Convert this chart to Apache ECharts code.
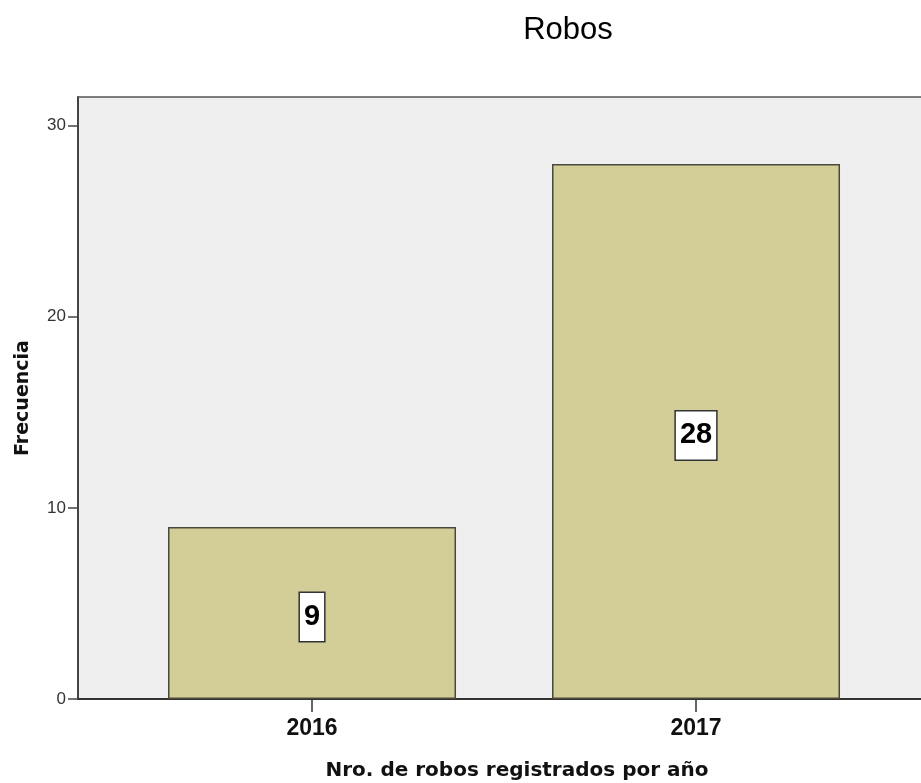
<!DOCTYPE html>
<html>
<head>
<meta charset="utf-8">
<script src="https://cdn.jsdelivr.net/npm/echarts@6/dist/echarts.min.js"></script>
<style>html,body{margin:0;padding:0;background:#fff;}#c{width:921px;height:783px;}</style>
</head>
<body>
<div id="c"></div>
<script>
const title = 'Robos';
const xTitle = 'Nro. de robos registrados por año';
const yTitle = 'Frecuencia';
const years = [2016, 2017];
const counts = [9, 28];
const yMax = 31.5;
const yStep = 10;

const chart = echarts.init(document.getElementById('c'), null, {renderer: 'canvas'});
const data = years.map((y, i) => [y, counts[i]]);
const xMin = 2015.3906, xMax = 2017.5859;

chart.setOption({
  animation: false,
  backgroundColor: '#ffffff',
  title: {
    text: title, left: 563, top: 10, textAlign: 'center',
    textStyle: {fontFamily: 'Liberation Sans', fontSize: 31, fontWeight: 'normal', color: '#000'}
  },
  grid: {
    left: 78, top: 97, right: 0, bottom: 84,
    show: true, backgroundColor: '#efefef', borderWidth: 0
  },
  xAxis: [{
    type: 'value',
    min: xMin, max: xMax,
    splitLine: {show: false},
    axisLine: {show: true, onZero: false, lineStyle: {color: '#333', width: 2}},
    axisTick: {show: true, customValues: years, length: 13, lineStyle: {color: '#333', width: 1.5}},
    axisLabel: {
      customValues: years, margin: 18, formatter: v => String(v),
      fontFamily: 'Liberation Sans', fontWeight: 'bold', fontSize: 23, color: '#111'
    }
  }, {
    type: 'value', position: 'top',
    min: xMin, max: xMax,
    splitLine: {show: false},
    axisLine: {show: true, onZero: false, lineStyle: {color: '#555', width: 1.5}},
    axisTick: {show: false},
    axisLabel: {show: false}
  }],
  yAxis: {
    type: 'value', min: 0, max: yMax, interval: yStep,
    splitLine: {show: false},
    axisLine: {show: true, lineStyle: {color: '#444', width: 2}},
    axisTick: {show: true, length: 10, lineStyle: {color: '#444', width: 1.5}},
    axisLabel: {
      margin: 12, fontFamily: 'Liberation Sans', fontSize: 17, color: '#333',
      showMaxLabel: false
    }
  },
  series: [{
    type: 'bar',
    data: data,
    barWidth: 288,
    itemStyle: {color: '#d3ce97', borderColor: '#4a4a3c', borderWidth: 1.5},
    label: {
      show: true, position: 'inside', offset: [0, 4],
      formatter: p => String(p.value[1]),
      fontFamily: 'Liberation Sans', fontWeight: 'bold', fontSize: 29, color: '#000',
      backgroundColor: '#fff', borderColor: '#333', borderWidth: 1.5,
      padding: [10, 4, 9, 4], lineHeight: 29
    }
  }],
  graphic: [
    {
      type: 'text', x: 517, y: 771,
      style: {text: xTitle, font: 'bold 20px "DejaVu Sans"', fill: '#111', align: 'center', verticalAlign: 'middle'}
    },
    {
      type: 'text', x: 23, y: 398, rotation: Math.PI / 2,
      style: {text: yTitle, font: 'bold 19px "DejaVu Sans"', fill: '#111', align: 'center', verticalAlign: 'middle'}
    }
  ]
});
</script>
</body>
</html>
